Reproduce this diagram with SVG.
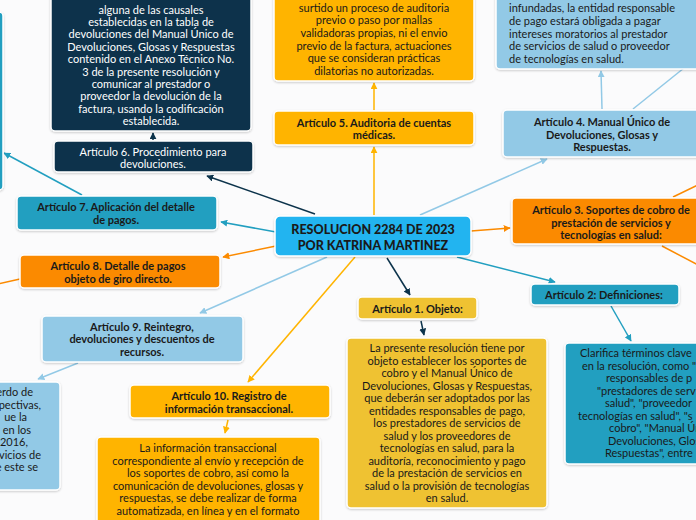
<svg xmlns="http://www.w3.org/2000/svg" width="696" height="520" viewBox="0 0 696 520">
<defs>
<style>
text{font-family:Lato,"Liberation Sans",sans-serif;font-size:11px;fill:#1a1a1a}
.t{text-anchor:middle}
.b{font-weight:bold}
.w{fill:#ffffff}
.box{stroke:#ffffff;stroke-width:1.5;filter:url(#sh)}
.navy{fill:#0c334b}
.teal{fill:#229fc0}
.lb{fill:#92c9e6}
.or{fill:#fb8a00}
.am{fill:#ffb400}
.gd{fill:#efc233}
.cen{fill:#22b4f0}
.c{fill:none;stroke-width:1.5}
.cn{stroke:#0c334b}
.ct{stroke:#229fc0}
.cl{stroke:#92c9e6}
.co{stroke:#fb8a00}
.ca{stroke:#ffb400}
</style>
<filter id="sh" x="-10%" y="-10%" width="120%" height="130%">
<feDropShadow dx="0" dy="1" stdDeviation="1.2" flood-color="#000" flood-opacity="0.2"/>
</filter>
<marker id="mn" viewBox="0 0 10 10" refX="9" refY="5" markerWidth="7" markerHeight="7" markerUnits="userSpaceOnUse" orient="auto"><path d="M0,0 L10,5 L0,10 z" fill="#0c334b"/></marker>
<marker id="mt" viewBox="0 0 10 10" refX="9" refY="5" markerWidth="7" markerHeight="7" markerUnits="userSpaceOnUse" orient="auto"><path d="M0,0 L10,5 L0,10 z" fill="#229fc0"/></marker>
<marker id="ml" viewBox="0 0 10 10" refX="9" refY="5" markerWidth="7" markerHeight="7" markerUnits="userSpaceOnUse" orient="auto"><path d="M0,0 L10,5 L0,10 z" fill="#92c9e6"/></marker>
<marker id="mo" viewBox="0 0 10 10" refX="9" refY="5" markerWidth="7" markerHeight="7" markerUnits="userSpaceOnUse" orient="auto"><path d="M0,0 L10,5 L0,10 z" fill="#fb8a00"/></marker>
<marker id="ma" viewBox="0 0 10 10" refX="9" refY="5" markerWidth="7" markerHeight="7" markerUnits="userSpaceOnUse" orient="auto"><path d="M0,0 L10,5 L0,10 z" fill="#ffb400"/></marker>
</defs>
<rect x="0" y="0" width="696" height="520" fill="#fbfbfc"/>

<g id="connectors">
<path class="c cn" d="M315,214 L207,176" marker-end="url(#mn)"/>
<path class="c ct" d="M276,232 L221,222" marker-end="url(#mt)"/>
<path class="c co" d="M276,246 L223,257" marker-end="url(#mo)"/>
<path class="c cl" d="M327,257 L200,313" marker-end="url(#ml)"/>
<path class="c ca" d="M355,257 L248,382" marker-end="url(#ma)"/>
<path class="c cn" d="M387,258 L410,295" marker-end="url(#mn)"/>
<path class="c ct" d="M457,257 L555,282" marker-end="url(#mt)"/>
<path class="c co" d="M471,231 L510,228" marker-end="url(#mo)"/>
<path class="c cl" d="M420,215 L547,159" marker-end="url(#ml)"/>
<path class="c ca" d="M374,215 L374,147" marker-end="url(#ma)"/>
<path class="c cn" d="M153,140 L153,133" marker-end="url(#mn)"/>
<path class="c ct" d="M82,195 L4,153" marker-end="url(#mt)"/>
<path class="c co" d="M20,279 L-2,284"/>
<path class="c cl" d="M78,363 L38,379" marker-end="url(#ml)"/>
<path class="c ca" d="M228,420 L225,433" marker-end="url(#ma)"/>
<path class="c cn" d="M421,321 L424,335" marker-end="url(#mn)"/>
<path class="c ct" d="M611,306 L631,341" marker-end="url(#mt)"/>
<path class="c co" d="M673,197 L700,184"/>
<path class="c co" d="M662,246 L700,266"/>
<path class="c cl" d="M602,109 L601,71" marker-end="url(#ml)"/>
<path class="c cl" d="M633,109 L684,68"/>
<path class="c ca" d="M374,110 L374,83" marker-end="url(#ma)"/>
</g>

<g id="left-partial">
<rect class="box teal" x="-200" y="12" width="203" height="178" rx="4"/>
</g>

<g id="art6-content">
<rect class="box navy" x="51" y="-12" width="200" height="143" rx="4"/>
<text class="t w" x="151" y="13.5">alguna de las causales</text>
<text class="t w" x="151" y="25.9">establecidas en la tabla de</text>
<text class="t w" x="151" y="38.3">devoluciones del Manual Único de</text>
<text class="t w" x="151" y="50.7">Devoluciones, Glosas y Respuestas</text>
<text class="t w" x="151" y="63.1">contenido en el Anexo Técnico No.</text>
<text class="t w" x="151" y="75.5">3 de la presente resolución y</text>
<text class="t w" x="151" y="87.9">comunicar al prestador o</text>
<text class="t w" x="151" y="100.3">proveedor la devolución de la</text>
<text class="t w" x="151" y="112.7">factura, usando la codificación</text>
<text class="t w" x="151" y="125.1">establecida.</text>
</g>

<g id="art6">
<rect class="box navy" x="54" y="141" width="199" height="31" rx="4"/>
<text class="t w" x="153" y="156">Artículo 6. Procedimiento para</text>
<text class="t w" x="153" y="168">devoluciones.</text>
</g>

<g id="art5-content">
<rect class="box am" x="274" y="-12" width="200" height="93" rx="4"/>
<text class="t" x="374" y="11.5">surtido un proceso de auditoria</text>
<text class="t" x="374" y="24.2">previo o paso por mallas</text>
<text class="t" x="374" y="36.9">validadoras propias, ni el envio</text>
<text class="t" x="374" y="49.6">previo de la factura, actuaciones</text>
<text class="t" x="374" y="62.3">que se consideran prácticas</text>
<text class="t" x="374" y="75">dilatorias no autorizadas.</text>
</g>

<g id="art5">
<rect class="box am" x="274" y="111" width="200" height="34" rx="4"/>
<text class="t b" x="374" y="126.5">Artículo 5. Auditoria de cuentas</text>
<text class="t b" x="374" y="139">médicas.</text>
</g>

<g id="art4-content">
<rect class="box lb" x="496" y="-12" width="210" height="81" rx="4"/>
<text x="509" y="12">infundadas, la entidad responsable</text>
<text x="509" y="25">de pago estará obligada a pagar</text>
<text x="509" y="37.5">intereses moratorios al prestador</text>
<text x="509" y="50">de servicios de salud o proveedor</text>
<text x="509" y="62.5">de tecnologías en salud.</text>
</g>

<g id="art4">
<rect class="box lb" x="503" y="110" width="200" height="47" rx="4"/>
<text class="t b" x="602" y="125.5">Artículo 4. Manual Único de</text>
<text class="t b" x="602" y="138.5">Devoluciones, Glosas y</text>
<text class="t b" x="602" y="151">Respuestas.</text>
</g>

<g id="center">
<rect class="box cen" x="275" y="216" width="196" height="40" rx="5"/>
<text class="t b" x="373" y="233.5" style="font-size:12.5px;font-weight:900">RESOLUCION 2284 DE 2023</text>
<text class="t b" x="373" y="249.5" style="font-size:12.5px;font-weight:900">POR KATRINA MARTINEZ</text>
</g>

<g id="art7">
<rect class="box teal" x="17" y="196" width="200" height="34" rx="4"/>
<text class="t b" x="116" y="211">Artículo 7. Aplicación del detalle</text>
<text class="t b" x="116" y="224">de pagos.</text>
</g>

<g id="art8">
<rect class="box or" x="20" y="255" width="200" height="33" rx="4"/>
<text class="t b" x="118" y="270">Artículo 8. Detalle de pagos</text>
<text class="t b" x="118" y="282.5">objeto de giro directo.</text>
</g>

<g id="art3">
<rect class="box or" x="512" y="198" width="200" height="46" rx="4"/>
<text class="t b" x="611" y="214">Artículo 3. Soportes de cobro de</text>
<text class="t b" x="611" y="226.5">prestación de servicios y</text>
<text class="t b" x="611" y="238.5">tecnologías en salud:</text>
</g>

<g id="art9">
<rect class="box lb" x="42" y="316" width="201" height="46" rx="4"/>
<text class="t b" x="142" y="330.5">Artículo 9. Reintegro,</text>
<text class="t b" x="142" y="343">devoluciones y descuentos de</text>
<text class="t b" x="142" y="355.5">recursos.</text>
</g>

<g id="art9-content">
<rect class="box lb" x="-140" y="382" width="200" height="108" rx="4"/>
<text x="33" y="396" text-anchor="end">erdo de</text>
<text x="41" y="408.5" text-anchor="end">pectivas,</text>
<text x="27" y="421" text-anchor="end">ue la</text>
<text x="31" y="433.5" text-anchor="end">en los</text>
<text x="28" y="446" text-anchor="end">2016,</text>
<text x="41" y="458.5" text-anchor="end">vicios de</text>
<text x="38" y="471" text-anchor="end">e este se</text>
</g>

<g id="art10">
<rect class="box am" x="130" y="385" width="200" height="33" rx="4"/>
<text class="t b" x="229" y="400">Artículo 10. Registro de</text>
<text class="t b" x="229" y="412.5">información transaccional.</text>
</g>

<g id="art10-content">
<rect class="box am" x="97" y="437" width="223" height="100" rx="4"/>
<text class="t" x="208" y="452">La información transaccional</text>
<text class="t" x="208" y="464.5">correspondiente al envío y recepción de</text>
<text class="t" x="208" y="477">los soportes de cobro, así como la</text>
<text class="t" x="208" y="489.5">comunicación de devoluciones, glosas y</text>
<text class="t" x="208" y="502">respuestas, se debe realizar de forma</text>
<text class="t" x="208" y="514.5">automatizada, en línea y en el formato</text>
</g>

<g id="art1">
<rect class="box gd" x="358" y="297" width="119" height="22" rx="4"/>
<text class="t b" x="417.5" y="312.5">Artículo 1. Objeto:</text>
</g>

<g id="art1-content">
<rect class="box gd" x="347" y="338" width="200" height="170" rx="4"/>
<text class="t" x="447" y="352">La presente resolución tiene por</text>
<text class="t" x="447" y="364.5">objeto establecer los soportes de</text>
<text class="t" x="447" y="377">cobro y el Manual Único de</text>
<text class="t" x="447" y="389.5">Devoluciones, Glosas y Respuestas,</text>
<text class="t" x="447" y="402">que deberán ser adoptados por las</text>
<text class="t" x="447" y="414.5">entidades responsables de pago,</text>
<text class="t" x="447" y="427">los prestadores de servicios de</text>
<text class="t" x="447" y="439.5">salud y los proveedores de</text>
<text class="t" x="447" y="452">tecnologías en salud, para la</text>
<text class="t" x="447" y="464.5">auditoría, reconocimiento y pago</text>
<text class="t" x="447" y="477">de la prestación de servicios en</text>
<text class="t" x="447" y="489.5">salud o la provisión de tecnologías</text>
<text class="t" x="447" y="502">en salud.</text>
</g>

<g id="art2">
<rect class="box teal" x="531" y="284" width="148" height="21" rx="4"/>
<text class="t b" x="604" y="299">Artículo 2: Definiciones:</text>
</g>

<g id="art2-content">
<rect class="box teal" x="565" y="343" width="200" height="121" rx="4"/>
<text x="580" y="357">Clarifica términos clave</text>
<text x="582" y="370">en la resolución, como "</text>
<text x="606" y="382">responsables de p</text>
<text x="597" y="395">"prestadores de serv</text>
<text x="605" y="407">salud", "proveedor</text>
<text x="578" y="420">tecnologías en salud", "s</text>
<text x="609" y="432">cobro", "Manual Ún</text>
<text x="608" y="445">Devoluciones, Glos</text>
<text x="605" y="457">Respuestas", entre</text>
</g>
</svg>
